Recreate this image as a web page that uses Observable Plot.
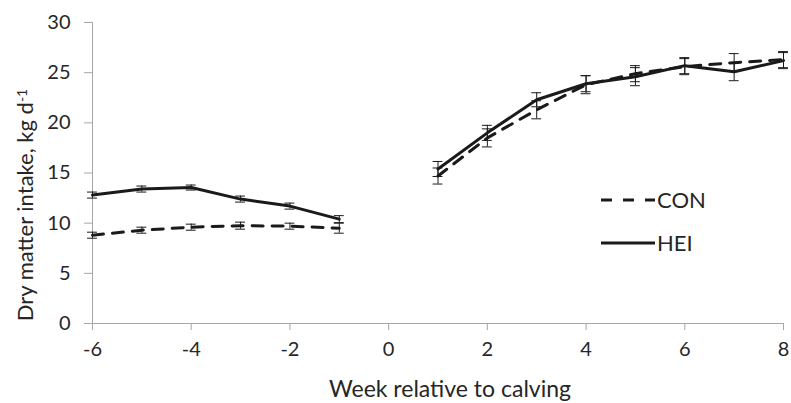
<!DOCTYPE html>
<html><head><meta charset="utf-8">
<script src="https://cdn.jsdelivr.net/npm/d3@7"></script>
<script src="https://cdn.jsdelivr.net/npm/@observablehq/plot@0.6"></script>
<style>body{margin:0;background:#fff} #chart svg{font-family:Lato, "Open Sans", sans-serif; background:#fff}</style>
</head><body><div id="chart"></div>
<script>
const weeksPre = [-6, -5, -4, -3, -2, -1];
const weeksPost = [1, 2, 3, 4, 5, 6, 7, 8];
const conPre = [8.8, 9.3, 9.6, 9.75, 9.7, 9.5];
const conPreSE = [0.3, 0.3, 0.3, 0.35, 0.3, 0.5];
const heiPre = [12.8, 13.4, 13.55, 12.4, 11.7, 10.4];
const heiPreSE = [0.3, 0.3, 0.25, 0.3, 0.3, 0.35];
const conPost = [14.7, 18.5, 21.3, 23.8, 24.9, 25.6, 26.0, 26.3];
const conPostSE = [0.8, 0.9, 0.9, 0.9, 0.8, 0.8, 0.9, 0.8];
const heiPost = [15.4, 19.0, 22.3, 23.9, 24.6, 25.7, 25.1, 26.2];
const heiPostSE = [0.75, 0.75, 0.7, 0.8, 0.9, 0.8, 0.9, 0.8];
const xTicks = [-6, -4, -2, 0, 2, 4, 6, 8];
const yTicks = [0, 5, 10, 15, 20, 25, 30];
const seriesNames = ["CON", "HEI"];

const rows = [];
function add(trt, period, weeks, vals, ses) {
  weeks.forEach((w, i) => rows.push({trt, period, week: w, dmi: vals[i], se: ses[i]}));
}
add("CON", "pre", weeksPre, conPre, conPreSE);
add("CON", "post", weeksPost, conPost, conPostSE);
add("HEI", "pre", weeksPre, heiPre, heiPreSE);
add("HEI", "post", weeksPost, heiPost, heiPostSE);

const ink = "#1a1a1a";
const axisGray = "#a6a6a6";
const textColor = "#262626";

const chart = Plot.plot({
  width: 791,
  height: 403,
  marginLeft: 92,
  marginRight: 8,
  marginTop: 22,
  marginBottom: 80,
  x: {domain: [-6, 8]},
  y: {domain: [0, 30]},
  marks: [
    Plot.ruleY([0], {stroke: axisGray, strokeWidth: 1}),
    Plot.ruleX([-6], {stroke: axisGray, strokeWidth: 1}),
    Plot.axisX({ticks: xTicks, tickSize: 7, tickPadding: 11, tickFormat: d => String(d), stroke: axisGray, fill: textColor, fontSize: 20, label: null}),
    Plot.axisY({ticks: yTicks, tickSize: 8, tickPadding: 14, tickFormat: d => String(d), stroke: axisGray, fill: textColor, fontSize: 20, label: null}),
    Plot.ruleX(rows, {x: "week", y1: d => d.dmi - d.se, y2: d => d.dmi + d.se, stroke: ink, strokeWidth: 1}),
    Plot.ruleY(rows, {y: d => d.dmi + d.se, x1: d => d.week - 0.1, x2: d => d.week + 0.1, stroke: ink, strokeWidth: 1}),
    Plot.ruleY(rows, {y: d => d.dmi - d.se, x1: d => d.week - 0.1, x2: d => d.week + 0.1, stroke: ink, strokeWidth: 1}),
    Plot.line(rows.filter(d => d.trt === "CON"), {x: "week", y: "dmi", z: "period", stroke: ink, strokeWidth: 3, strokeDasharray: "11,9", strokeLinejoin: "round"}),
    Plot.line(rows.filter(d => d.trt === "HEI"), {x: "week", y: "dmi", z: "period", stroke: ink, strokeWidth: 3, strokeLinejoin: "round"})
  ]
});
document.getElementById("chart").appendChild(chart);

const svg = d3.select(chart);
// x axis title
svg.append("text").attr("x", 450).attr("y", 397).attr("text-anchor", "middle")
  .attr("fill", textColor).style("font-size", "23px").text("Week relative to calving");
// y axis title with superscript
const yt = svg.append("text").attr("transform", "translate(33,205) rotate(-90)")
  .attr("text-anchor", "middle").attr("fill", textColor).style("font-size", "22px");
yt.append("tspan").text("Dry matter intake, kg d");
yt.append("tspan").attr("dy", "-0.45em").style("font-size", "14px").text("-1");

// legend
const leg = svg.append("g");
[[0, "11,9"], [1, null]].forEach(([i, dash]) => {
  const y = 200 + i * 43;
  const l = leg.append("line").attr("x1", 601).attr("x2", 655).attr("y1", y).attr("y2", y)
    .attr("stroke", ink).attr("stroke-width", 3);
  if (dash) l.attr("stroke-dasharray", "11,11");
  leg.append("text").attr("x", 657).attr("y", y).attr("dy", "0.35em").attr("text-anchor", "start")
    .attr("fill", textColor).style("font-size", "22px").text(seriesNames[i]);
});
</script></body></html>
